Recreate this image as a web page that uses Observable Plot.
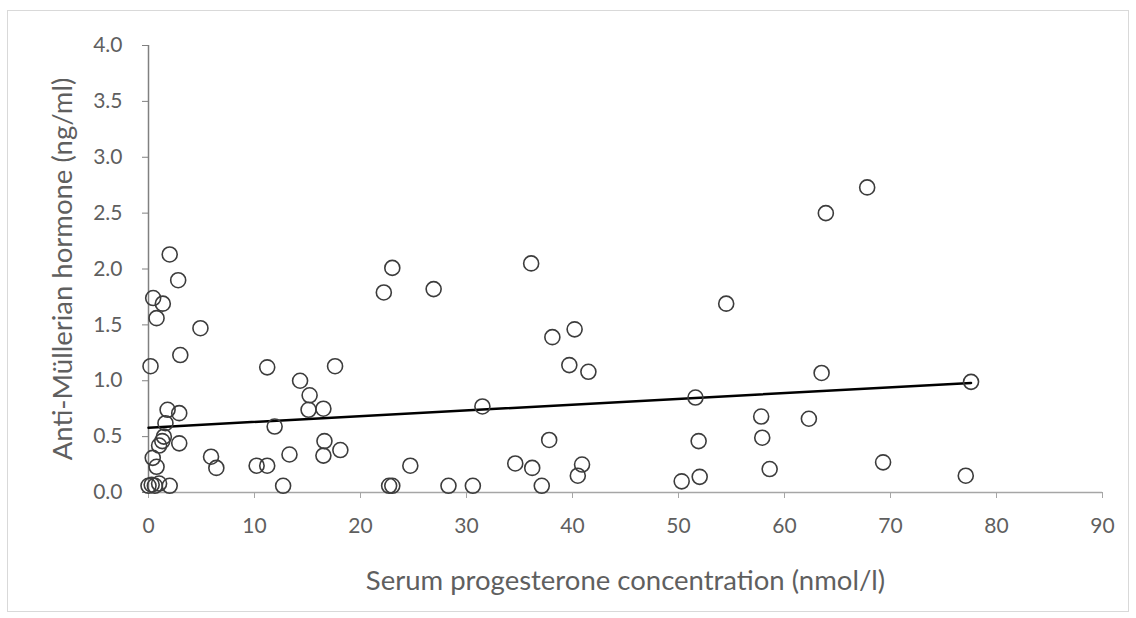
<!DOCTYPE html>
<html>
<head>
<meta charset="utf-8">
<script src="https://cdn.jsdelivr.net/npm/d3@7"></script>
<script src="https://cdn.jsdelivr.net/npm/@observablehq/plot@0.6"></script>
<style>
  html, body { margin: 0; padding: 0; background: #fff; }
  #chart { width: 1136px; height: 618px; }
</style>
</head>
<body>
<div id="chart"></div>
<script>
// Serum progesterone (nmol/l)
const progesterone = [
  2.0, 2.8, 0.44, 1.35, 0.76, 4.9, 3.0, 0.19, 11.2, 17.6,
  14.3, 15.2, 15.1, 16.5, 1.8, 2.9, 1.6, 11.9, 1.45, 1.3,
  2.9, 1.0, 16.6, 18.1, 16.5, 13.3, 5.9, 6.4, 10.2, 11.2,
  0.4, 0.76, 12.7, 0.0, 0.3, 0.6, 1.0, 2.0,
  23.0, 22.2, 26.9, 36.1, 40.2, 38.1, 39.7, 41.5, 31.5, 37.8,
  24.7, 34.6, 36.2, 40.9, 40.5, 22.7, 23.0, 28.3, 30.6, 37.1,
  63.9, 54.5, 63.5, 51.6, 57.8, 62.3, 51.9, 57.9, 58.6, 52.0,
  50.3, 67.8, 77.6, 69.3, 77.1
];
// Anti-Müllerian hormone (ng/ml)
const amh = [
  2.13, 1.90, 1.74, 1.69, 1.56, 1.47, 1.23, 1.13, 1.12, 1.13,
  1.00, 0.87, 0.74, 0.75, 0.74, 0.71, 0.62, 0.59, 0.50, 0.46,
  0.44, 0.42, 0.46, 0.38, 0.33, 0.34, 0.32, 0.22, 0.24, 0.24,
  0.31, 0.23, 0.06, 0.06, 0.07, 0.06, 0.08, 0.06,
  2.01, 1.79, 1.82, 2.05, 1.46, 1.39, 1.14, 1.08, 0.77, 0.47,
  0.24, 0.26, 0.22, 0.25, 0.15, 0.06, 0.06, 0.06, 0.06, 0.06,
  2.50, 1.69, 1.07, 0.85, 0.68, 0.66, 0.46, 0.49, 0.21, 0.14,
  0.10, 2.73, 0.99, 0.27, 0.15
];
// Linear trendline end points
const trendX = [0, 77.6];
const trendY = [0.58, 0.98];
// Tick values
const xTicks = [0, 10, 20, 30, 40, 50, 60, 70, 80, 90];
const yTicks = [0, 0.5, 1, 1.5, 2, 2.5, 3, 3.5, 4];

const points = progesterone.map((x, i) => ({x, y: amh[i]}));
const trend = trendX.map((x, i) => ({x, y: trendY[i]}));

const font = "Lato, 'Open Sans', sans-serif";
const textColor = "#5f5f5f";

const chart = Plot.plot({
  width: 1136,
  height: 618,
  marginLeft: 148,
  marginRight: 34,
  marginTop: 45,
  marginBottom: 126,
  style: {fontFamily: font, background: "#fff", color: textColor, overflow: "visible"},
  x: {domain: [0, 90]},
  y: {domain: [0, 4]},
  marks: [
    Plot.ruleY([0], {stroke: "#a6a6a6", strokeWidth: 1.5}),
    Plot.ruleX([0], {stroke: "#808080", strokeWidth: 1.5}),
    Plot.axisX({
      ticks: xTicks, tickSize: 6, tickPadding: 20, fontSize: 21, stroke: "#a6a6a6",
      color: textColor, tickFormat: d3.format("d"),
      label: "Serum progesterone concentration (nmol/l)", labelAnchor: "center",
      labelArrow: "none", labelOffset: 97
    }),
    Plot.axisY({
      ticks: yTicks, tickSize: 6, tickPadding: 20, fontSize: 21, stroke: "#808080",
      color: textColor, tickFormat: d3.format(".1f"),
      label: "Anti-Müllerian hormone (ng/ml)", labelAnchor: "center",
      labelArrow: "none", labelOffset: 96
    }),
    Plot.line(trend, {x: "x", y: "y", stroke: "#000", strokeWidth: 2.5}),
    Plot.dot(points, {x: "x", y: "y", r: 7.5, stroke: "#3c3c3c", strokeWidth: 1.6, fill: "none"})
  ]
});

// axis title font sizes
d3.select(chart).selectAll("g[aria-label='x-axis label'] text, g[aria-label='y-axis label'] text")
  .attr("font-size", 27.5);

// outer chart border
d3.select(chart).insert("rect", ":first-child")
  .attr("x", 7.5).attr("y", 10.5).attr("width", 1121).attr("height", 601)
  .attr("fill", "#fff").attr("stroke", "#d9d9d9").attr("stroke-width", 1);

document.getElementById("chart").appendChild(chart);
</script>
</body>
</html>
